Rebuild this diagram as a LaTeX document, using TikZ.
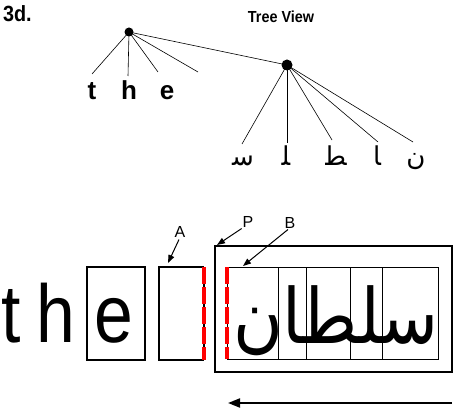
\documentclass[tikz,border=0pt]{standalone}
\usepackage{fontspec}
\setmainfont{Liberation Sans}
\newfontfamily\arabicfont[Script=Arabic]{DejaVu Sans}
\TeXXeTstate=1
\usetikzlibrary{arrows.meta}
\begin{document}
\begin{tikzpicture}[x=1pt,y=-1pt,
  every node/.style={inner sep=0pt, outer sep=0pt},
  treeline/.style={line width=0.6pt},
  dot/.style={circle, fill=black, minimum size=#1},
  treeletter/.style={font=\bfseries\fontsize{26}{26}\selectfont, anchor=base},
  treearabic/.style={font=\arabicfont\fontsize{26}{26}\selectfont, anchor=base},
  bigletter/.style={font=\fontsize{82}{82}\selectfont, anchor=base},
  label/.style={font=\fontsize{16}{16}\selectfont},
  pointer/.style={-{Triangle[length=8pt,width=6pt]}, line width=1pt},
  cellline/.style={line width=0.7pt},
  reddash/.style={red, line width=3.5pt, dash pattern=on 17pt off 3pt}
]
\useasboundingbox (0,0) rectangle (453,409);

% title
\node[anchor=base west, font=\bfseries\fontsize{22}{22}\selectfont] (title) at (3,22) {\scalebox{0.9}[1]{3d.}};
\node[anchor=base, font=\bfseries\fontsize{16}{16}\selectfont] (tv) at (281,23) {\scalebox{0.9}[1]{Tree View}};

% tree
\node[dot=9pt] (n1) at (129,32) {};
\node[dot=11pt] (n2) at (287,65) {};
\coordinate (a1) at (92,74);
\coordinate (a2) at (128,76);
\coordinate (a3) at (158,72);
\coordinate (a4) at (198,72);
\foreach \c in {a1,a2,a3,a4} \draw[treeline] (n1.center) -- (\c);
\draw[treeline] (n1.center) -- (n2.center);
\coordinate (b1) at (242,144);
\coordinate (b2) at (287,143);
\coordinate (b3) at (332,140);
\coordinate (b4) at (378,142);
\coordinate (b5) at (413,142);
\foreach \c in {b1,b2,b3,b4,b5} \draw[treeline] (n2.center) -- (\c);

\node[treeletter] (tt) at (92,100) {t};
\node[treeletter] (th) at (129,100) {h};
\node[treeletter] (te) at (167,100) {e};

\node[treearabic] (s1) at (243,166) {ﺳ};
\node[treearabic] (s2) at (286,166) {ﻠ};
\node[treearabic] (s3) at (336,166) {ﻄ};
\node[treearabic] (s4) at (377,166) {ﺎ};
\node[treearabic] (s5) at (416,166) {ن};

% bottom row
\node[bigletter] (bt) at (11,342) {\scalebox{0.85}[1]{t}};
\node[bigletter] (bh) at (56,342) {\scalebox{0.85}[1]{h}};
\node[draw, line width=2pt, minimum width=58pt, minimum height=93pt] (ebox) at (116,313.5) {};
\node[bigletter] (be) at (114,342) {\scalebox{0.85}[1]{e}};

% box A
\node[minimum width=45pt, minimum height=93pt] (abox) at (181.5,313.5) {};
\draw[line width=2pt] (abox.north east) -- (abox.north west) -- (abox.south west) -- (abox.south east);
\draw[line width=1.5pt] (abox.north east) -- (abox.south east);
\draw[reddash] (abox.north east) -- (abox.south east);

% box P
\node[draw, line width=2pt, minimum width=237pt, minimum height=126pt] (pbox) at (333.5,309) {};
\node[draw, cellline, minimum width=211pt, minimum height=92pt] (cells) at (332.5,313) {};
\coordinate (v1t) at (278,267); \coordinate (v1b) at (278,359);
\coordinate (v2t) at (306,267); \coordinate (v2b) at (306,359);
\coordinate (v3t) at (350,267); \coordinate (v3b) at (350,359);
\coordinate (v4t) at (382,267); \coordinate (v4b) at (382,359);
\draw[cellline] (v1t) -- (v1b) (v2t) -- (v2b) (v3t) -- (v3b) (v4t) -- (v4b);
\draw[line width=1pt] (cells.north west) -- (cells.south west);
\draw[reddash] (cells.north west) -- (cells.south west);

\node[font=\arabicfont\fontsize{68}{68}\selectfont, anchor=base] (word) at (336,343) {\scalebox{1}[1.12]{\beginR سلطان\endR}};

% labels and pointers
\node[label] (la) at (180,232) {A};
\node[label] (lp) at (248,222) {P};
\node[label] (lb) at (290,223) {B};
\coordinate (pa) at (168,263);
\coordinate (pp) at (217,245);
\coordinate (pb) at (243,266);
\draw[pointer] (la.south) ++(-1,2) -- (pa);
\draw[pointer] (lp.south west) ++(-1,1) -- (pp);
\draw[pointer] (lb.south) ++(-2,1) -- (pb);

% direction arrow
\coordinate (ds) at (452,403);
\coordinate (de) at (228,403);
\draw[-{Triangle[length=12pt,width=9pt]}, line width=2pt] (ds) -- (de);
\end{tikzpicture}
\end{document}
